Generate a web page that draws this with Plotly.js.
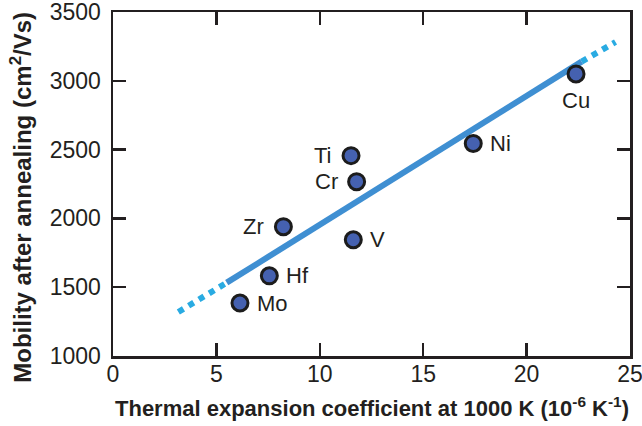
<!DOCTYPE html>
<html>
<head>
<meta charset="utf-8">
<script src="https://cdn.plot.ly/plotly-3.0.1.min.js"></script>
<style>
  html, body { margin: 0; padding: 0; background: #ffffff; }
  #chart { width: 642px; height: 426px; }
</style>
</head>
<body>
<div id="chart"></div>
<script>
// Metal contact layers: thermal expansion coefficient vs. mobility after annealing
const metals = ["Cu", "Ni", "Ti", "Cr", "Zr", "V", "Hf", "Mo"];
const expansion = [22.39, 17.42, 11.51, 11.78, 8.24, 11.62, 7.56, 6.14];
const mobility = [3050, 2545, 2456, 2267, 1940, 1845, 1583, 1385];

// Linear trend: solid over the data range, dotted extensions at both ends
const trendX = [5.5, 22.66];
const trendY = [1533, 3139];
const extLowX = [3.16, 5.5];
const extLowY = [1320, 1533];
const extHighX = [22.66, 24.3];
const extHighY = [3139, 3282];

// Which side of its marker each metal's label sits on
const labelSide = ["below", "right", "left", "left", "left", "right", "right", "right"];

const xTicks = [0, 5, 10, 15, 20, 25];
const yTicks = [1000, 1500, 2000, 2500, 3000, 3500];

const xTitle = "Thermal expansion coefficient at 1000 K (10<sup>-6</sup> K<sup>-1</sup>)";
const yTitle = "Mobility after annealing (cm<sup>2</sup>/Vs)";

const ink = "#231f20";
const font = "Liberation Sans, Arial, Helvetica, sans-serif";

const traces = [
  {
    x: extLowX, y: extLowY, mode: "lines", hoverinfo: "skip",
    line: { color: "#29abe2", width: 6, dash: "dot" }
  },
  {
    x: extHighX, y: extHighY, mode: "lines", hoverinfo: "skip",
    line: { color: "#29abe2", width: 6, dash: "dot" }
  },
  {
    x: trendX, y: trendY, mode: "lines", hoverinfo: "skip",
    line: { color: "#3f8fd2", width: 6 }
  },
  {
    x: expansion, y: mobility, mode: "markers", text: metals,
    marker: { size: 16, color: "#4561b0", line: { color: "#1c1c1c", width: 3 } }
  }
];

const annotations = metals.map((m, i) => {
  const side = labelSide[i];
  const a = {
    x: expansion[i], y: mobility[i], xref: "x", yref: "y", text: m,
    showarrow: false, font: { family: font, size: 22, color: ink }
  };
  if (side === "right") { a.xanchor = "left"; a.xshift = 15; }
  else if (side === "left") { a.xanchor = "right"; a.xshift = -17; }
  else { a.xanchor = "center"; a.yshift = -27; }
  return a;
});

// Axis titles drawn as paper-anchored annotations
annotations.push({
  xref: "paper", yref: "paper", x: 0.5, y: 0, xanchor: "center", yanchor: "middle",
  yshift: -51, showarrow: false, text: xTitle,
  font: { family: font, size: 22, color: ink, weight: "bold" }
});
annotations.push({
  xref: "paper", yref: "paper", x: 0, y: 0.46, xanchor: "center", yanchor: "middle",
  xshift: -92, textangle: -90, showarrow: false, text: yTitle,
  font: { family: font, size: 24, color: ink, weight: "bold" }
});

const axisCommon = {
  showline: true, linecolor: ink, linewidth: 2.5, mirror: "ticks",
  ticks: "inside", ticklen: 13, tickwidth: 2.5, tickcolor: ink,
  showgrid: false, zeroline: false, ticklabeloverflow: "allow",
  tickfont: { family: font, size: 23, color: ink }
};

const layout = {
  width: 642, height: 426,
  margin: { l: 113, r: 12, t: 12, b: 70 },
  paper_bgcolor: "#ffffff", plot_bgcolor: "#ffffff",
  showlegend: false,
  xaxis: Object.assign({}, axisCommon, {
    range: [0, 25], tickvals: xTicks,
    ticklabelstandoff: -4
  }),
  yaxis: Object.assign({}, axisCommon, {
    range: [1000, 3500], tickvals: yTicks,
    ticklabelstandoff: 5
  }),
  annotations: annotations
};

Plotly.newPlot("chart", traces, layout, { staticPlot: true, displayModeBar: false });
</script>
</body>
</html>
